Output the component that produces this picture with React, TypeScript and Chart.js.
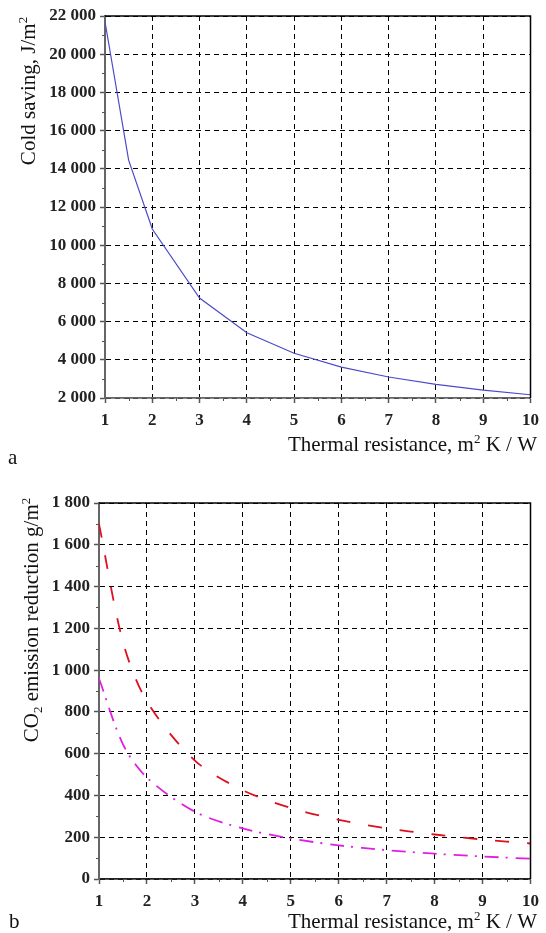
import React, { useEffect, useRef } from 'react';
import { Chart, registerables } from 'chart.js';

Chart.register(...registerables);

// ---- Data ----
const resistance = [1, 1.5, 2, 3, 4, 5, 6, 7, 8, 9, 10];
const coldSaving = [21700, 14450, 10850, 7230, 5420, 4340, 3620, 3100, 2710, 2410, 2170];
const co2Dashed = [1700, 1135, 850, 567, 425, 340, 283, 243, 213, 189, 170];
const co2DashDot = [960, 645, 485, 322, 242, 194, 161, 138, 121, 108, 97];

const xTicks = [1, 2, 3, 4, 5, 6, 7, 8, 9, 10];
const xMinorTicks = [1.5, 2.5, 3.5, 4.5, 5.5, 6.5, 7.5, 8.5, 9.5];
const coldTicks = [2000, 4000, 6000, 8000, 10000, 12000, 14000, 16000, 18000, 20000, 22000];
const coldMinorTicks = [3000, 5000, 7000, 9000, 11000, 13000, 15000, 17000, 19000, 21000];
const co2Ticks = [0, 200, 400, 600, 800, 1000, 1200, 1400, 1600, 1800];
const co2MinorTicks = [100, 300, 500, 700, 900, 1100, 1300, 1500, 1700];

const TITLE_FONT = '"Liberation Serif", "Times New Roman", serif';
const TICK_FONT = { family: TITLE_FONT, size: 17, weight: 'bold' as const };

Chart.defaults.font.family = TITLE_FONT;
Chart.defaults.font.size = 17;
Chart.defaults.color = '#000';

const fmt = (v: number) => String(v).replace(/\B(?=(\d{3})+(?!\d))/g, ' ');

type Piece = { t: string; size: number; dy: number };

function drawPieces(ctx: CanvasRenderingContext2D, pieces: Piece[], x: number, y: number, align: 'left' | 'center' | 'right') {
  let total = 0;
  for (const p of pieces) {
    ctx.font = `${p.size}px ${TITLE_FONT}`;
    total += ctx.measureText(p.t).width;
  }
  let cx = align === 'center' ? x - total / 2 : align === 'right' ? x - total : x;
  ctx.textAlign = 'left';
  ctx.textBaseline = 'alphabetic';
  for (const p of pieces) {
    ctx.font = `${p.size}px ${TITLE_FONT}`;
    ctx.fillText(p.t, cx, y + p.dy);
    cx += ctx.measureText(p.t).width;
  }
}

function decorPlugin(minorX: number[], minorY: number[], drawTitles: (ctx: CanvasRenderingContext2D) => void) {
  return {
    id: 'decor',
    afterDraw(chart: any) {
      const { ctx, chartArea: a } = chart;
      const xs = chart.scales.x;
      const ys = chart.scales.y;
      ctx.save();
      ctx.setLineDash([]);
      ctx.strokeStyle = '#555';
      ctx.lineWidth = 1;
      ctx.beginPath();
      for (const v of minorX) {
        const px = Math.round(xs.getPixelForValue(v)) + 0.5;
        ctx.moveTo(px, a.bottom);
        ctx.lineTo(px, a.bottom + 3);
      }
      for (const v of minorY) {
        const py = Math.round(ys.getPixelForValue(v)) + 0.5;
        ctx.moveTo(a.left - 3, py);
        ctx.lineTo(a.left, py);
      }
      ctx.stroke();
      ctx.strokeStyle = '#000';
      ctx.lineWidth = 1.5;
      ctx.beginPath();
      ctx.moveTo(a.left, a.top);
      ctx.lineTo(a.right, a.top);
      ctx.lineTo(a.right, a.bottom);
      ctx.stroke();
      ctx.fillStyle = '#111';
      drawTitles(ctx);
      ctx.restore();
    },
  };
}

function baseScales(opts: {
  yMin: number; yMax: number; yTicks: number[]; yWidth: number; xHeight: number; xBorder: string;
}) {
  return {
    x: {
      type: 'linear',
      min: 1,
      max: 10,
      afterBuildTicks: (s: any) => { s.ticks = xTicks.map((v) => ({ value: v })); },
      afterFit: (s: any) => { s.height = opts.xHeight; },
      ticks: { font: TICK_FONT, color: '#222', padding: 7, maxRotation: 0, autoSkip: false, callback: (v: any) => String(v) },
      grid: { color: '#000', lineWidth: 1, tickLength: 5, tickColor: '#555', tickWidth: 1.5, tickBorderDash: [] },
      border: { display: true, color: opts.xBorder, width: 1.8, dash: [5, 4] },
    },
    y: {
      type: 'linear',
      min: opts.yMin,
      max: opts.yMax,
      afterBuildTicks: (s: any) => { s.ticks = opts.yTicks.map((v) => ({ value: v })); },
      afterFit: (s: any) => { s.width = opts.yWidth; },
      ticks: { font: TICK_FONT, color: '#222', padding: 4, autoSkip: false, callback: (v: any) => fmt(Number(v)) },
      grid: { color: '#000', lineWidth: 1, tickLength: 5, tickColor: '#555', tickWidth: 1.5, tickBorderDash: [] },
      border: { display: true, color: '#666', width: 2, dash: [5, 4] },
    },
  };
}

function TopChart() {
  const ref = useRef<HTMLCanvasElement | null>(null);
  useEffect(() => {
    if (!ref.current) return;
    const decor = decorPlugin(xMinorTicks, coldMinorTicks, (ctx) => {
      ctx.save();
      ctx.translate(35, 91);
      ctx.rotate(-Math.PI / 2);
      drawPieces(ctx, [{ t: 'Cold saving, J/m', size: 21, dy: 0 }, { t: '2', size: 13, dy: -8 }], 0, 0, 'center');
      ctx.restore();
      drawPieces(ctx, [
        { t: 'Thermal resistance, m', size: 21, dy: 0 },
        { t: '2', size: 13, dy: -8 },
        { t: ' K / W', size: 21, dy: 0 },
      ], 537, 451, 'right');
      drawPieces(ctx, [{ t: 'a', size: 21, dy: 0 }], 8, 464, 'left');
    });
    const chart = new Chart(ref.current, {
      type: 'line',
      data: {
        datasets: [
          {
            data: resistance.map((x, i) => ({ x, y: coldSaving[i] })),
            borderColor: '#4b4bc8',
            borderWidth: 1.2,
            pointRadius: 0,
            tension: 0,
            fill: false,
          },
        ],
      },
      options: {
        animation: false,
        responsive: false,
        events: [],
        layout: { padding: { left: 0, top: 16, right: 9, bottom: 0 } },
        plugins: { legend: { display: false }, tooltip: { enabled: false } },
        scales: baseScales({ yMin: 2000, yMax: 22000, yTicks: coldTicks, yWidth: 105, xHeight: 72, xBorder: '#666' }) as any,
      },
      plugins: [decor],
    } as any);
    return () => chart.destroy();
  }, []);
  return <canvas ref={ref} width={546} height={470} style={{ display: 'block', width: 546, height: 470 }} />;
}

function BottomChart() {
  const ref = useRef<HTMLCanvasElement | null>(null);
  useEffect(() => {
    if (!ref.current) return;
    const decor = decorPlugin(xMinorTicks, co2MinorTicks, (ctx) => {
      ctx.save();
      ctx.translate(38, 150);
      ctx.rotate(-Math.PI / 2);
      drawPieces(ctx, [
        { t: 'CO', size: 21, dy: 0 },
        { t: '2', size: 13, dy: 4 },
        { t: ' emission reduction g/m', size: 21, dy: 0 },
        { t: '2', size: 13, dy: -8 },
      ], 0, 0, 'center');
      ctx.restore();
      drawPieces(ctx, [
        { t: 'Thermal resistance, m', size: 21, dy: 0 },
        { t: '2', size: 13, dy: -8 },
        { t: ' K / W', size: 21, dy: 0 },
      ], 537, 458, 'right');
      drawPieces(ctx, [{ t: 'b', size: 21, dy: 0 }], 9, 458, 'left');
    });
    const chart = new Chart(ref.current, {
      type: 'line',
      data: {
        datasets: [
          {
            data: resistance.map((x, i) => ({ x, y: co2Dashed[i] })),
            borderColor: '#dd1020',
            borderWidth: 1.8,
            borderDash: [14, 18],
            pointRadius: 0,
            tension: 0.3,
            fill: false,
          },
          {
            data: resistance.map((x, i) => ({ x, y: co2DashDot[i] })),
            borderColor: '#e020e0',
            borderWidth: 1.8,
            borderDash: [14, 7, 2, 8],
            pointRadius: 0,
            tension: 0.3,
            fill: false,
          },
        ],
      },
      options: {
        animation: false,
        responsive: false,
        events: [],
        layout: { padding: { left: 0, top: 33, right: 10, bottom: 0 } },
        plugins: { legend: { display: false }, tooltip: { enabled: false } },
        scales: baseScales({ yMin: 0, yMax: 1800, yTicks: co2Ticks, yWidth: 99, xHeight: 54, xBorder: '#222' }) as any,
      },
      plugins: [decor],
    } as any);
    return () => chart.destroy();
  }, []);
  return <canvas ref={ref} width={546} height={463} style={{ display: 'block', width: 546, height: 463 }} />;
}

export default function App() {
  return (
    <div style={{ position: 'absolute', left: 0, top: 0, width: 546, height: 933, background: '#fff' }}>
      <TopChart />
      <BottomChart />
    </div>
  );
}
